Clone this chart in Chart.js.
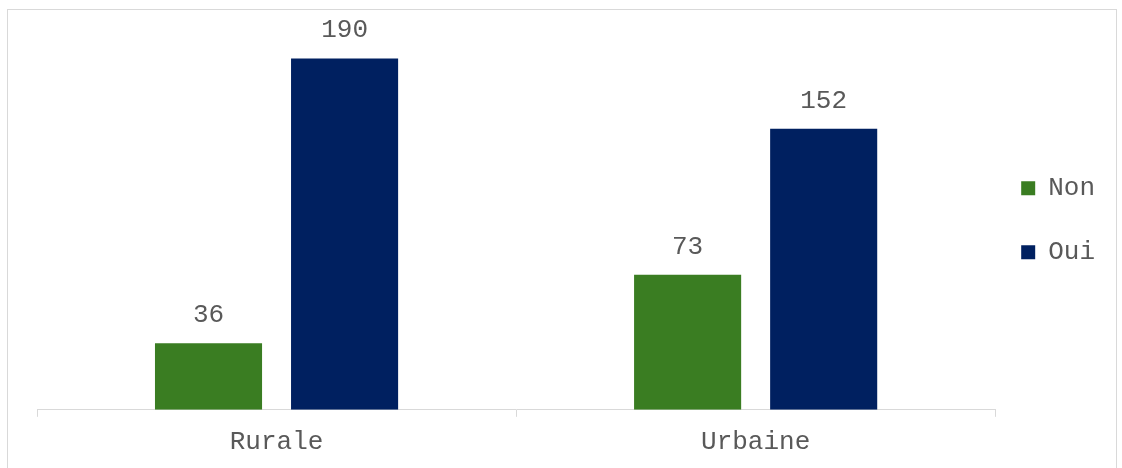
<!DOCTYPE html>
<html>
<head>
<meta charset="utf-8">
<script src="https://cdn.jsdelivr.net/npm/chart.js@4"></script>
<style>
  body { margin: 0; background: #fff; }
  #cadre { position: absolute; left: 7px; top: 9px; width: 1110px; height: 470px; border: 1px solid #d9d9d9; box-sizing: border-box; }
  #graphique { position: absolute; left: 0; top: 0; }
</style>
</head>
<body>
<div id="cadre"></div>
<canvas id="graphique" width="1122" height="468"></canvas>
<script>
const zones = ["Rurale", "Urbaine"];
const non = [36, 73];
const oui = [190, 152];

const police = "'Liberation Mono', 'Courier New', monospace";

// étiquettes de valeur au-dessus des barres
const etiquettes = {
  id: "etiquettes",
  afterDatasetsDraw(chart) {
    const ctx = chart.ctx;
    ctx.save();
    ctx.font = "26px " + police;
    ctx.fillStyle = "#595959";
    ctx.textAlign = "center";
    ctx.textBaseline = "bottom";
    chart.data.datasets.forEach((ds, i) => {
      chart.getDatasetMeta(i).data.forEach((bar, j) => {
        ctx.fillText(ds.data[j], bar.x, bar.y - 15);
      });
    });
    ctx.restore();
  }
};

new Chart(document.getElementById("graphique"), {
  type: "bar",
  data: {
    labels: zones,
    datasets: [
      { label: "Non", data: non, backgroundColor: "#3a7d22" },
      { label: "Oui", data: oui, backgroundColor: "#002060" }
    ]
  },
  options: {
    responsive: false,
    animation: false,
    categoryPercentage: 0.568,
    barPercentage: 0.787,
    layout: { padding: { left: 37, top: 40, right: 17, bottom: 0 } },
    scales: {
      x: {
        grid: { offset: true, drawOnChartArea: false, color: "#d9d9d9", tickLength: 7 },
        border: { color: "#d9d9d9" },
        ticks: { color: "#595959", font: { family: police, size: 26 }, padding: 10 }
      },
      y: { display: false, min: 0, max: 200 }
    },
    plugins: {
      legend: {
        position: "right",
        align: "start",
        title: { display: true, text: " ", font: { size: 26 }, padding: { top: 0, bottom: 78 } },
        labels: {
          color: "#595959",
          font: { family: police, size: 26, lineHeight: 1.46 },
          boxWidth: 14,
          boxHeight: 14,
          padding: 26,
          generateLabels(chart) {
            return Chart.defaults.plugins.legend.labels.generateLabels(chart)
              .map(item => ({ ...item, text: [item.text] }));
          }
        }
      },
      tooltip: { enabled: false }
    }
  },
  plugins: [etiquettes]
});
</script>
</body>
</html>
